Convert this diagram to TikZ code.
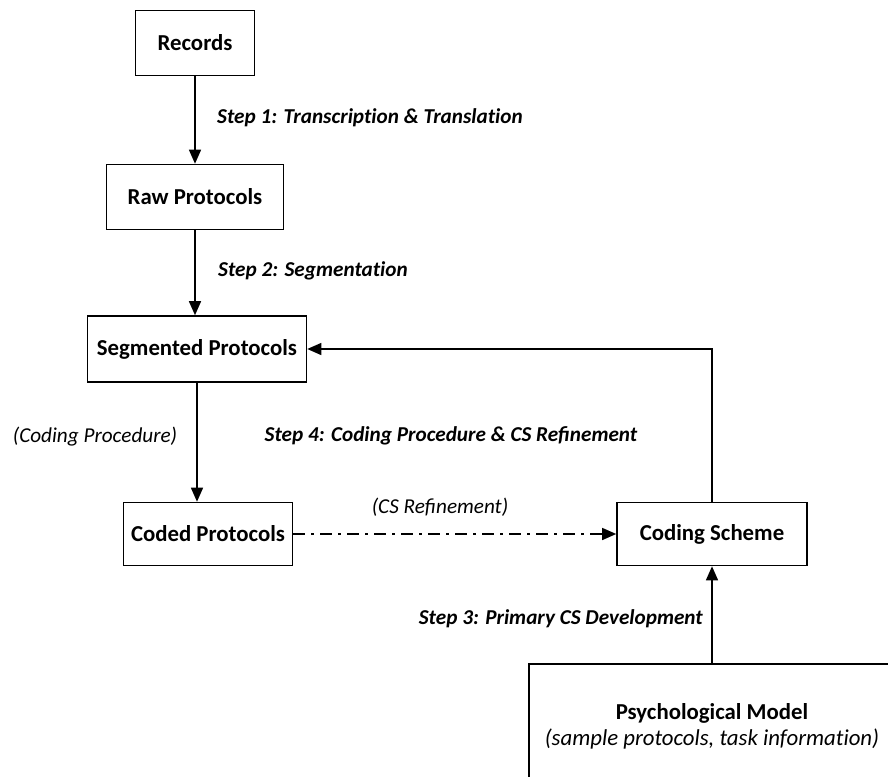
\documentclass[tikz,border=0pt]{standalone}
\usepackage{fontspec}
\setmainfont{Carlito}
\usetikzlibrary{arrows.meta}
% plain "t" + "i" without the font's ti ligature
\newcommand\plainti{t\kern0pt i}
\tikzset{
  box/.style={draw, line width=1.6pt, inner sep=0pt, align=center,
    font=\fontsize{22.8}{27}\selectfont\bfseries},
  steplabel/.style={font=\fontsize{21.2}{25}\selectfont\bfseries\itshape, inner sep=0pt},
  note/.style={font=\fontsize{21.2}{25}\selectfont\itshape, inner sep=0pt},
  flow/.style={line width=1.4pt, -{Triangle[width=12pt,length=14pt]}},
  dashdot/.style={flow, dash pattern=on 12pt off 6pt on 3pt off 6pt}
}
\begin{document}
\begin{tikzpicture}[x=1pt,y=-1pt]
  \useasboundingbox (0,0) rectangle (888,776);
  \clip (0,0) rectangle (888,776);

  % process boxes
  \node[box, minimum width=119pt, minimum height=65pt] (rec) at (195,43) {Records};
  \node[box, minimum width=177pt, minimum height=65pt] (raw) at (195,197) {Raw Protocols};
  \node[box, minimum width=219pt, minimum height=66pt] (seg) at (197,349) {Segmented Protocols};
  \node[box, minimum width=169pt, minimum height=63pt] (cod) at (208,534) {Coded Protocols};
  \node[box, minimum width=190pt, minimum height=63pt] (cs) at (712,534) {Coding Scheme};
  \node[box, minimum width=366pt, minimum height=124pt] (psy) at (712,726)
    {Psychological Model\\[-1pt]{\mdseries\itshape (sample protocols, task informa\plainti on)}};

  % connectors
  \draw[flow] (rec.south) -- (raw.north);
  \draw[flow] (raw.south) -- (raw.south |- seg.north);
  \draw[flow] (seg.south) -- (seg.south |- cod.north);
  \draw[dashdot] (cod.east) -- (cs.west);
  \draw[flow] (psy.north) -- (cs.south);
  \draw[flow] (cs.north) |- (seg.east);

  % labels
  \node[steplabel, anchor=west] (l1) at (217,118) {Step 1: Transcrip\plainti on \& Transla\plainti on};
  \node[steplabel, anchor=west] (l2) at (218,271) {Step 2: Segmenta\plainti on};
  \node[steplabel] (l4) at (451,436) {Step 4: Coding Procedure \& CS Refinement};
  \node[note] (l5) at (95,437) {(Coding Procedure)};
  \node[note] (l6) at (440,507) {(CS Refinement)};
  \node[steplabel, anchor=east] (l3) at (703,619) {Step 3: Primary CS Development};
\end{tikzpicture}
\end{document}
